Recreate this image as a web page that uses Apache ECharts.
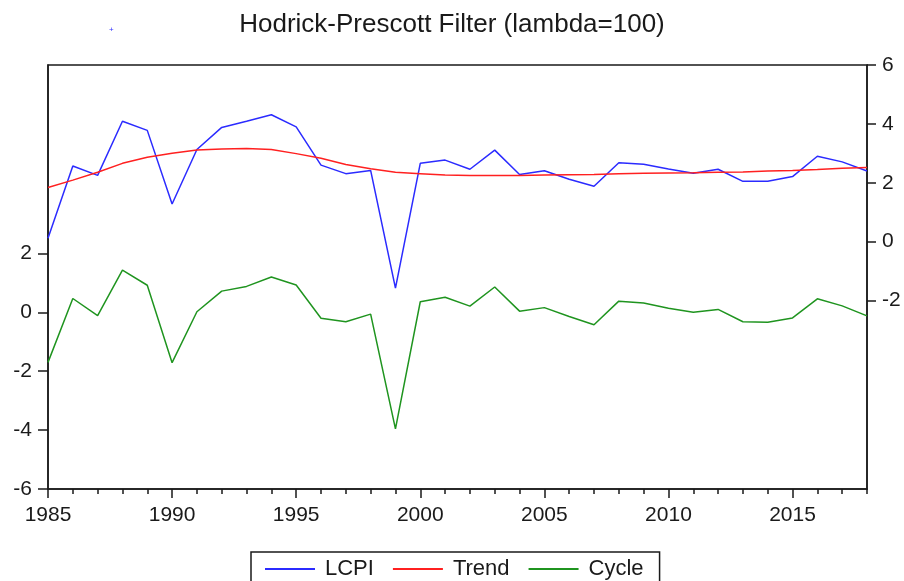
<!DOCTYPE html>
<html>
<head>
<meta charset="utf-8">
<script src="https://cdn.jsdelivr.net/npm/echarts@6/dist/echarts.min.js"></script>
<style>
  html, body { margin: 0; padding: 0; background: #fff; }
  #chart { width: 904px; height: 581px; }
</style>
</head>
<body>
<div id="chart"></div>
<script>
    // data
    let years = [];
    for (let y = 1985; y <= 2018; y++) years.push(y);
    let lcpi = [0.12, 2.57, 2.25, 4.09, 3.78, 1.28, 3.13, 3.88, 4.09, 4.31, 3.9,
        2.6, 2.31, 2.42, -1.58, 2.66, 2.77, 2.46, 3.11, 2.28, 2.41, 2.12, 1.88,
        2.68, 2.63, 2.47, 2.32, 2.46, 2.05, 2.05, 2.21, 2.9, 2.71, 2.4];
    let trend = [1.84, 2.09, 2.36, 2.66, 2.87, 3.0, 3.11, 3.15, 3.16, 3.13, 2.99,
        2.83, 2.62, 2.48, 2.36, 2.31, 2.26, 2.25, 2.25, 2.25, 2.26, 2.27, 2.28,
        2.31, 2.32, 2.33, 2.34, 2.36, 2.37, 2.4, 2.42, 2.45, 2.49, 2.52];
    let cycle = [-1.7, 0.47, -0.11, 1.43, 0.92, -1.71, 0.02, 0.72, 0.88, 1.2, 0.93,
        -0.2, -0.32, -0.06, -3.96, 0.36, 0.51, 0.21, 0.86, 0.04, 0.16, -0.14, -0.42,
        0.38, 0.32, 0.14, 0.0, 0.1, -0.32, -0.34, -0.19, 0.46, 0.22, -0.12];
    let yearLabels = [1985, 1990, 1995, 2000, 2005, 2010, 2015];
    let leftTicks = [-6, -4, -2, 0, 2];
    let rightTicks = [-2, 0, 2, 4, 6];

    let pairs = arr => arr.map((v, i) => [years[i], v]);

    let font = 'Liberation Sans, Arial, sans-serif';
    let black = '#1a1a1a';

    let chart = echarts.init(document.getElementById('chart'));
    let option = {
        backgroundColor: '#fff',
        animation: false,
        title: {
            text: 'Hodrick-Prescott Filter (lambda=100)',
            left: 'center',
            top: 7,
            textStyle: {fontFamily: font, fontSize: 26, fontWeight: 'normal', color: black}
        },
        graphic: [{
            type: 'text', left: 109, top: 26,
            style: {text: '+', fill: '#3030ff', fontSize: 8, fontFamily: font}
        }],
        grid: {
            left: 48, right: 37, top: 65, bottom: 92,
            show: true, borderColor: black, borderWidth: 1.5
        },
        legend: {
            data: ['LCPI', 'Trend', 'Cycle'],
            left: 251, top: 552,
            orient: 'horizontal',
            icon: 'rect',
            itemWidth: 50, itemHeight: 2,
            itemGap: 19,
            padding: [6, 16, 14, 14],
            borderColor: black, borderWidth: 1.5,
            textStyle: {fontFamily: font, fontSize: 22, color: black, padding: [0, 0, 0, 5]}
        },
        xAxis: [{
            type: 'value', position: 'bottom', min: 1985, max: 2018,
            axisLine: {onZero: false, lineStyle: {color: black, width: 1.5}},
            axisTick: {length: 9, customValues: yearLabels, lineStyle: {color: black, width: 1.5}},
            axisLabel: {
                customValues: yearLabels, margin: 16, color: black, fontFamily: font, fontSize: 21,
                formatter: v => String(v)
            },
            splitLine: {show: false}
        }, {
            type: 'value', position: 'bottom', min: 1985, max: 2018,
            axisLine: {show: false, onZero: false},
            axisTick: {length: 5, customValues: years, lineStyle: {color: black, width: 1.5}},
            axisLabel: {show: false},
            splitLine: {show: false}
        }],
        yAxis: [{
            type: 'value', position: 'left', min: -6, max: 8.4,
            axisLine: {show: true, onZero: false, lineStyle: {color: black, width: 1.5}},
            axisTick: {show: true, length: 10, customValues: leftTicks, lineStyle: {color: black, width: 1.5}},
            axisLabel: {customValues: leftTicks, margin: 16, color: black, fontFamily: font, fontSize: 21},
            splitLine: {show: false}
        }, {
            type: 'value', position: 'right', min: -8.4, max: 6,
            axisLine: {show: true, onZero: false, lineStyle: {color: black, width: 1.5}},
            axisTick: {show: true, length: 9, customValues: rightTicks, lineStyle: {color: black, width: 1.5}},
            axisLabel: {customValues: rightTicks, margin: 15, color: black, fontFamily: font, fontSize: 21},
            splitLine: {show: false}
        }],
        series: [{
            name: 'LCPI', type: 'line', yAxisIndex: 1, data: pairs(lcpi),
            symbol: 'none', color: '#2b2bff', lineStyle: {width: 1.5, color: '#2b2bff'}
        }, {
            name: 'Trend', type: 'line', yAxisIndex: 1, data: pairs(trend),
            symbol: 'none', color: '#ff2020', lineStyle: {width: 1.5, color: '#ff2020'}
        }, {
            name: 'Cycle', type: 'line', yAxisIndex: 0, data: pairs(cycle),
            symbol: 'none', color: '#1f941f', lineStyle: {width: 1.5, color: '#1f941f'}
        }]
    };
    chart.setOption(option);
</script>
</body>
</html>
